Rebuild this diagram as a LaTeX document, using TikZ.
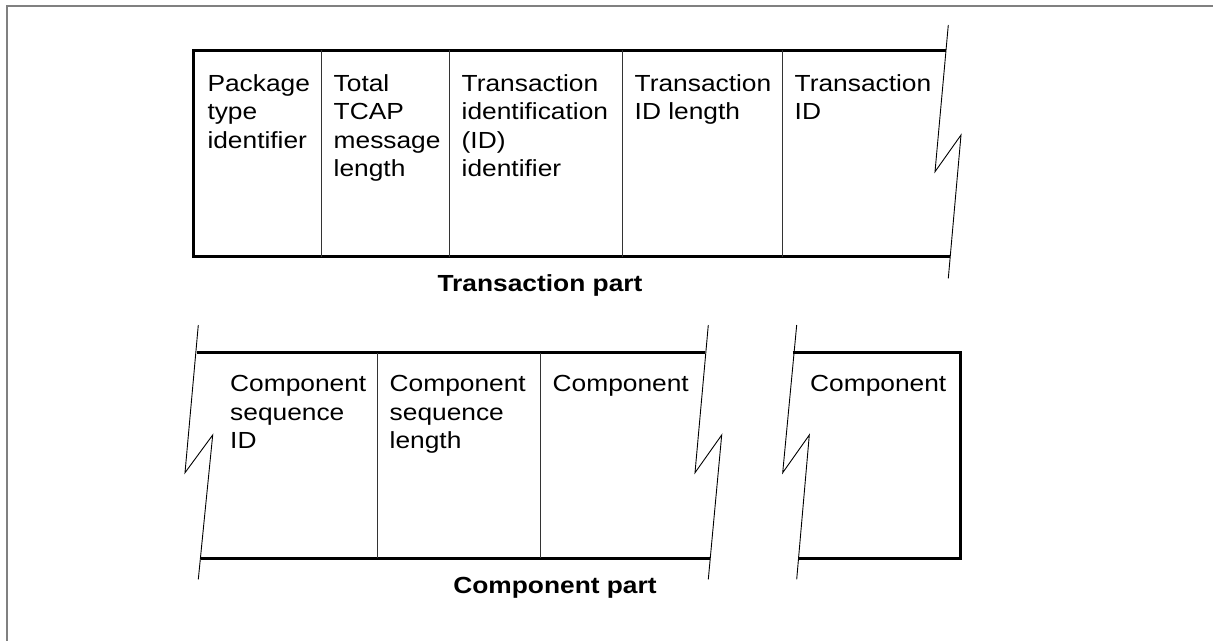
\documentclass[tikz,border=0pt]{standalone}
\usepackage{fontspec}
\setmainfont{Liberation Sans}[FakeStretch=1.13]
% left-aligned stack of lines whose baseline is that of its first line
\newcommand{\fieldtext}[1]{\begin{tabular}[t]{@{}l@{}}#1\end{tabular}}
\begin{document}
\begin{tikzpicture}[x=1pt,y=-1pt,
  frame/.style={draw=black!50,line width=2.4pt},
  edge/.style={draw=black,line width=3pt},
  divider/.style={draw=black!80,line width=0.9pt},
  breakline/.style={draw=black,line width=0.9pt,line join=miter},
  cell/.style={anchor=base west,inner sep=0pt,
    font=\fontsize{23.3}{28.5}\selectfont},
  caption/.style={anchor=base,inner sep=0pt,
    font=\fontsize{23.3}{28.5}\selectfont\bfseries}]
\useasboundingbox (0,0) rectangle (1213,641);

% outer frame (top and left only)
\draw[frame] (1213,6) -- (7,6) -- (7,641);

% ---------- Transaction part ----------
\coordinate (tTL) at (193,50);
\coordinate (tBL) at (193,256.7);
\coordinate (tTR) at (946.0,50);
\coordinate (tBR) at (950.2,256.7);
\draw[edge] (tTR) -- (tTL) -- (tBL) -- (tBR);
\foreach \x in {321.7,449.3,622.7,782.7}
  \draw[divider] (\x,50) -- (\x,256.7);
\coordinate (tb1) at (948.3,25);
\coordinate (tb2) at (935,171.7);
\coordinate (tb3) at (961,135);
\coordinate (tb4) at (948.3,278.3);
\draw[breakline] (tb1) -- (tb2) -- (tb3) -- (tb4);

\node[cell] (pti) at (207.3,91) {\fieldtext{Package\\type\\identifier}};
\node[cell] (ttml) at (333.5,91) {\fieldtext{Total\\TCAP\\message\\length}};
\node[cell] (tidi) at (461.5,91) {\fieldtext{Transaction\\identification\\(ID)\\identifier}};
\node[cell] (tidl) at (634.5,91) {\fieldtext{Transaction\\ID length}};
\node[cell] (tid) at (794.5,91) {\fieldtext{Transaction\\ID}};
\node[caption] (tpart) at (540,291) {Transaction part};

% ---------- Component part ----------
\coordinate (cTL) at (196.7,352.7);
\coordinate (cBL) at (200.7,558.3);
\coordinate (cTR) at (705,352.7);
\coordinate (cBR) at (710,558.3);
\draw[edge] (cTL) -- (cTR);
\draw[edge] (cBL) -- (cBR);
\foreach \x in {377.3,540.7}
  \draw[divider] (\x,352.7) -- (\x,558.3);
\coordinate (lb1) at (198.3,325);
\coordinate (lb2) at (185,472.7);
\coordinate (lb3) at (212.7,435);
\coordinate (lb4) at (198.3,579.3);
\draw[breakline] (lb1) -- (lb2) -- (lb3) -- (lb4);
\coordinate (mb1) at (708.3,325);
\coordinate (mb2) at (695,472.7);
\coordinate (mb3) at (721.7,435);
\coordinate (mb4) at (708.3,579.3);
\draw[breakline] (mb1) -- (mb2) -- (mb3) -- (mb4);

% last component box
\coordinate (rTL) at (792.7,352.7);
\coordinate (rTR) at (960,352.7);
\coordinate (rBR) at (960,558.3);
\coordinate (rBL) at (797.7,558.3);
\draw[edge,line join=miter] (rTL) -- (rTR) -- (rBR) -- (rBL);
\coordinate (rb1) at (796.7,325);
\coordinate (rb2) at (782.7,472.7);
\coordinate (rb3) at (809.3,435);
\coordinate (rb4) at (796.7,579.3);
\draw[breakline] (rb1) -- (rb2) -- (rb3) -- (rb4);

\node[cell] (csid) at (230,391.7) {\fieldtext{Component\\sequence\\ID}};
\node[cell] (csl) at (389.5,391.7) {\fieldtext{Component\\sequence\\length}};
\node[cell] (comp1) at (552.5,391.7) {Component};
\node[cell] (comp2) at (810,391.7) {Component};
\node[caption] (cpart) at (555,593.3) {Component part};
\end{tikzpicture}
\end{document}
